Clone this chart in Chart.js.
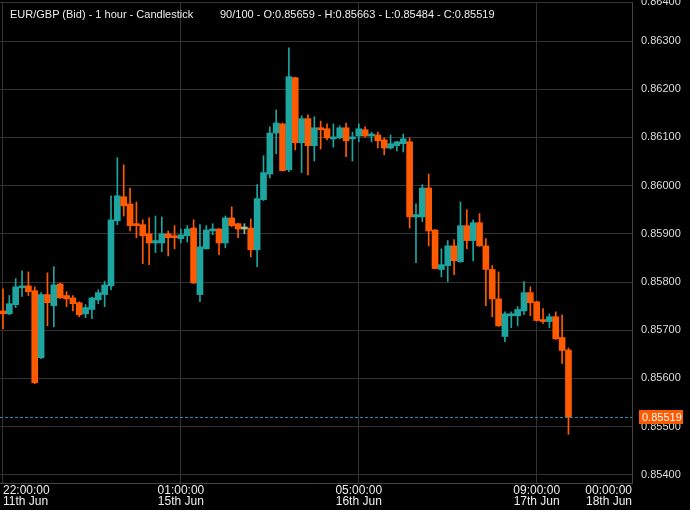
<!DOCTYPE html>
<html>
<head>
<meta charset="utf-8">
<script src="https://cdn.jsdelivr.net/npm/chart.js@4.4.1/dist/chart.umd.min.js"></script>
<style>
  html, body { margin: 0; padding: 0; background: #000; }
  #wrap { position: relative; width: 690px; height: 510px; }
  #chart { display: block; }
  .hdr { position: absolute; top: 8px; font: 11px "Liberation Sans", Arial, sans-serif; line-height: 13px; color: #eee; white-space: pre; }
</style>
</head>
<body>
<div id="wrap">
  <canvas id="chart" width="690" height="510"></canvas>
  <div class="hdr" id="title" style="left:10px"></div>
  <div class="hdr" id="ohlc" style="left:220px"></div>
</div>
<script>
// hourly EUR/GBP bid candles, one slot per trading hour
const opens = [
  0.85740, 0.85734, 0.85753, 0.85788, 0.85792, 0.85782, 0.85643, 0.85774, 0.85751, 0.85796,
  0.85772, 0.85767, 0.85757, 0.85734, 0.85743, 0.85763, 0.85774, 0.85792, 0.85927, 0.85977,
  0.85962, 0.85921, 0.85919, 0.85900, 0.85881, 0.85881, 0.85900, 0.85896, 0.85890, 0.85896,
  0.85912, 0.85774, 0.85869, 0.85906, 0.85910, 0.85881, 0.85933, 0.85921, 0.85910, 0.85912,
  0.85867, 0.85971, 0.86024, 0.86109, 0.86128, 0.86033, 0.86224, 0.86089, 0.86139, 0.86083,
  0.86120, 0.86118, 0.86097, 0.86099, 0.86120, 0.86097, 0.86103, 0.86116, 0.86103, 0.86105,
  0.86095, 0.86078, 0.86083, 0.86087, 0.86091, 0.85935, 0.85935, 0.85995, 0.85908, 0.85826,
  0.85834, 0.85875, 0.85842, 0.85917, 0.85886, 0.85923, 0.85875, 0.85826, 0.85765, 0.85687,
  0.85730, 0.85730, 0.85740, 0.85778, 0.85759, 0.85722, 0.85718, 0.85728, 0.85685, 0.85659
];
const highs = [
  0.85786, 0.85772, 0.85807, 0.85823, 0.85821, 0.85790, 0.85778, 0.85819, 0.85832, 0.85798,
  0.85780, 0.85772, 0.85759, 0.85753, 0.85769, 0.85784, 0.85801, 0.85979, 0.86058, 0.86043,
  0.85995, 0.85966, 0.85929, 0.85933, 0.85937, 0.85935, 0.85906, 0.85917, 0.85910, 0.85917,
  0.85929, 0.85919, 0.85917, 0.85921, 0.85911, 0.85937, 0.85956, 0.85922, 0.85921, 0.85931,
  0.86002, 0.86062, 0.86122, 0.86157, 0.86130, 0.86286, 0.86225, 0.86145, 0.86147, 0.86143,
  0.86134, 0.86128, 0.86128, 0.86124, 0.86130, 0.86111, 0.86128, 0.86122, 0.86111, 0.86111,
  0.86099, 0.86105, 0.86092, 0.86107, 0.86099, 0.85962, 0.86002, 0.86024, 0.85909, 0.85869,
  0.85886, 0.85888, 0.85966, 0.85950, 0.85929, 0.85942, 0.85890, 0.85834, 0.85821, 0.85738,
  0.85738, 0.85749, 0.85801, 0.85790, 0.85760, 0.85745, 0.85734, 0.85738, 0.85732, 0.85663
];
const lows = [
  0.85703, 0.85732, 0.85747, 0.85770, 0.85772, 0.85589, 0.85641, 0.85709, 0.85707, 0.85766,
  0.85749, 0.85740, 0.85728, 0.85726, 0.85724, 0.85755, 0.85749, 0.85784, 0.85919, 0.85937,
  0.85906, 0.85892, 0.85838, 0.85836, 0.85861, 0.85863, 0.85854, 0.85869, 0.85881, 0.85883,
  0.85797, 0.85759, 0.85868, 0.85898, 0.85857, 0.85871, 0.85915, 0.85892, 0.85900, 0.85852,
  0.85832, 0.85969, 0.86016, 0.86066, 0.86030, 0.86029, 0.86074, 0.86027, 0.86022, 0.86051,
  0.86076, 0.86095, 0.86080, 0.86097, 0.86060, 0.86051, 0.86091, 0.86101, 0.86091, 0.86078,
  0.86064, 0.86076, 0.86072, 0.86070, 0.85912, 0.85840, 0.85925, 0.85875, 0.85827, 0.85811,
  0.85801, 0.85815, 0.85841, 0.85869, 0.85844, 0.85874, 0.85751, 0.85728, 0.85708, 0.85676,
  0.85705, 0.85709, 0.85732, 0.85730, 0.85719, 0.85714, 0.85705, 0.85681, 0.85631, 0.85484
];
const closes = [
  0.85734, 0.85755, 0.85790, 0.85792, 0.85780, 0.85591, 0.85774, 0.85757, 0.85794, 0.85767,
  0.85765, 0.85755, 0.85732, 0.85747, 0.85767, 0.85778, 0.85794, 0.85929, 0.85979, 0.85958,
  0.85917, 0.85917, 0.85896, 0.85881, 0.85886, 0.85900, 0.85892, 0.85892, 0.85898, 0.85910,
  0.85798, 0.85873, 0.85908, 0.85910, 0.85881, 0.85933, 0.85917, 0.85910, 0.85910, 0.85867,
  0.85973, 0.86027, 0.86109, 0.86130, 0.86031, 0.86226, 0.86089, 0.86139, 0.86083, 0.86120,
  0.86116, 0.86099, 0.86101, 0.86120, 0.86093, 0.86101, 0.86118, 0.86103, 0.86107, 0.86093,
  0.86078, 0.86087, 0.86091, 0.86097, 0.85935, 0.85940, 0.85995, 0.85906, 0.85828, 0.85836,
  0.85875, 0.85844, 0.85917, 0.85886, 0.85923, 0.85875, 0.85826, 0.85765, 0.85709, 0.85734,
  0.85734, 0.85743, 0.85778, 0.85757, 0.85720, 0.85718, 0.85728, 0.85682, 0.85658, 0.85519
];
const totalSlots = 100;
const xTickIdx = [0, 28, 56, 84, 99];
const xTickTime = ['22:00:00', '01:00:00', '05:00:00', '09:00:00', '00:00:00'];
const xTickDate = ['11th Jun', '15th Jun', '16th Jun', '17th Jun', '18th Jun'];
const yTicks = [0.854, 0.855, 0.856, 0.857, 0.858, 0.859, 0.860, 0.861, 0.862, 0.863];

const UP = '#1ea5a0';
const DOWN = '#ff5a00';
const FLAT = '#8fd08f';
const GRID = '#333';

const xMin = -0.47;
const yMin = 0.85383;
const yMax = 0.86381;

const last = closes.length - 1;
const idx = opens.map((_, i) => i);

function bodyColor(i) {
  if (closes[i] > opens[i]) return UP;
  if (closes[i] < opens[i]) return DOWN;
  return FLAT;
}
function wickColor(i) {
  return closes[i] === opens[i] ? '#aaa' : bodyColor(i);
}

document.getElementById('title').textContent = 'EUR/GBP (Bid) - 1 hour - Candlestick';
document.getElementById('ohlc').textContent =
  `${last + 1}/${totalSlots} - O:${opens[last].toFixed(5)} - H:${highs[last].toFixed(5)} - L:${lows[last].toFixed(5)} - C:${closes[last].toFixed(5)}`;

Chart.defaults.font.family = '"Liberation Sans", Arial, sans-serif';

// dashed last-price line + orange box with the last price on the right axis
const priceTag = {
  id: 'priceTag',
  afterDatasetsDraw(chart) {
    const ctx = chart.ctx;
    const area = chart.chartArea;
    const y = Math.round(chart.scales.y.getPixelForValue(closes[last])) + 0.5;
    ctx.save();
    ctx.strokeStyle = '#1b8fb0';
    ctx.lineWidth = 1;
    ctx.setLineDash([3, 2]);
    ctx.beginPath();
    ctx.moveTo(area.left, y);
    ctx.lineTo(area.right, y);
    ctx.stroke();
    ctx.restore();
  },
  afterDraw(chart) {
    const ctx = chart.ctx;
    const y = Math.round(chart.scales.y.getPixelForValue(closes[last]));
    const x0 = chart.chartArea.right + 7;
    ctx.save();
    ctx.fillStyle = bodyColor(last);
    ctx.fillRect(x0, y - 7, 44, 14);
    ctx.fillStyle = '#fff';
    ctx.font = '11px "Liberation Sans", Arial, sans-serif';
    ctx.textBaseline = 'middle';
    ctx.fillText(closes[last].toFixed(5), x0 + 3, y + 0.5);
    ctx.restore();
  }
};

new Chart(document.getElementById('chart').getContext('2d'), {
  type: 'bar',
  data: {
    datasets: [
      {
        data: idx.map(i => ({ x: i, y: [opens[i], closes[i]] })),
        backgroundColor: idx.map(bodyColor),
        barThickness: 6,
        minBarLength: 2,
        grouped: false,
        order: 1
      },
      {
        data: idx.map(i => ({ x: i, y: [lows[i], highs[i]] })),
        backgroundColor: idx.map(wickColor),
        barThickness: 1,
        grouped: false,
        order: 2
      }
    ]
  },
  options: {
    responsive: false,
    animation: false,
    events: [],
    layout: { padding: { top: 2 } },
    plugins: {
      legend: { display: false },
      tooltip: { enabled: false }
    },
    scales: {
      x: {
        type: 'linear',
        min: xMin,
        max: totalSlots - 1,
        offset: false,
        grid: { color: GRID, drawTicks: false, offset: false },
        border: { color: '#444' },
        afterBuildTicks: s => { s.ticks = xTickIdx.map(v => ({ value: v })); },
        afterFit: s => { s.height = 27; s.paddingLeft = 0; s.paddingRight = 0; },
        ticks: {
          align: 'inner',
          autoSkip: false,
          maxRotation: 0,
          padding: 2,
          color: '#eee',
          font: { size: 12, lineHeight: 0.95 },
          callback: v => {
            const k = xTickIdx.indexOf(v);
            return [xTickTime[k], xTickDate[k]];
          }
        }
      },
      y: {
        position: 'right',
        min: yMin,
        max: yMax,
        grid: { color: GRID, drawTicks: false },
        border: { color: '#444' },
        afterBuildTicks: s => {
          s.ticks = yTicks.map(v => ({ value: v }));
          s.ticks.push({ value: s.max });
        },
        afterFit: s => { s.width = 58; s.paddingTop = 0; s.paddingBottom = 0; },
        ticks: {
          padding: 9,
          color: '#ddd',
          font: { size: 11 },
          callback: v => (Math.round(v * 1000) / 1000).toFixed(5)
        }
      }
    }
  },
  plugins: [priceTag]
});
</script>
</body>
</html>
